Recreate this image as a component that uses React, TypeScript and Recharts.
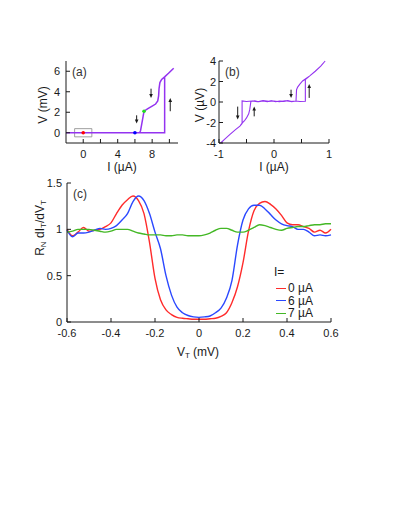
import React from "react";
import {
  LineChart,
  Line,
  XAxis,
  YAxis,
  ReferenceArea,
  ReferenceDot,
  ReferenceLine,
  Legend,
} from "recharts";

// panel (a): V(I) loop, I in uA, V in mV (up sweep then down sweep)
const loopCurrentA = [-2, 9.45, 9.45, 9.9, 10.5, 9.9, 9.45, 9.1, 8.9, 8.8, 8.75, 8.65, 8.4, 8.0, 7.5, 7.06, 6.95, 6.8, 6.65, 6.55, -2];
const loopVoltageA = [0, 0, 5.45, 5.8, 6.3, 5.8, 5.45, 5.2, 4.9, 4.3, 3.6, 3.1, 2.8, 2.6, 2.35, 2.1, 1.6, 0.9, 0.2, 0.02, 0];

// panel (b): zoom on the small loop, I in uA, V in uV
const loopCurrentB = [-0.97, -0.9, -0.8, -0.7, -0.62, -0.58, -0.54, -0.5, -0.46, -0.44, -0.43, -0.42, -0.35, -0.28, -0.2, -0.12, -0.05, 0.03, 0.1, 0.18, 0.25, 0.32, 0.4, 0.47, 0.57, 0.57, 0.65, 0.75, 0.85, 0.93, 0.85, 0.75, 0.65, 0.57, 0.52, 0.47, 0.43, 0.41, 0.4, 0.3, 0.2, 0.1, 0.0, -0.1, -0.2, -0.3, -0.4, -0.5, -0.58, -0.58, -0.62, -0.7, -0.8, -0.9, -0.97];
const loopVoltageB = [-4.0, -3.65, -3.15, -2.7, -2.35, -2.05, -1.85, -1.55, -1.15, -0.7, -0.3, 0.05, 0.12, 0.02, 0.1, 0.04, 0.12, 0.03, 0.1, 0.06, 0.13, 0.04, 0.1, 0.05, 0.08, 2.2, 2.55, 3.0, 3.5, 4.0, 3.5, 3.0, 2.55, 2.25, 2.05, 1.75, 1.45, 1.2, 0.1, 0.05, 0.12, 0.03, 0.1, 0.06, 0.13, 0.02, 0.1, 0.05, 0.1, -2.1, -2.35, -2.7, -3.15, -3.65, -4.0];

// panel (c): normalised conductance vs bias
const biasVT = [-0.6, -0.575, -0.55, -0.525, -0.5, -0.475, -0.45, -0.425, -0.4, -0.375, -0.35, -0.325, -0.3, -0.275, -0.25, -0.225, -0.2, -0.175, -0.15, -0.125, -0.1, -0.075, -0.05, -0.025, 0, 0.025, 0.05, 0.075, 0.1, 0.125, 0.15, 0.175, 0.2, 0.225, 0.25, 0.275, 0.3, 0.325, 0.35, 0.375, 0.4, 0.425, 0.45, 0.475, 0.5, 0.525, 0.55, 0.575, 0.6];
const cond0uA = [1.0, 0.93, 0.97, 1.02, 0.98, 0.99, 1.0, 1.03, 1.07, 1.17, 1.26, 1.32, 1.36, 1.31, 1.17, 0.86, 0.47, 0.24, 0.13, 0.08, 0.05, 0.04, 0.035, 0.03, 0.03, 0.03, 0.035, 0.04, 0.06, 0.1, 0.21, 0.38, 0.64, 0.98, 1.2, 1.28, 1.3, 1.27, 1.22, 1.15, 1.07, 1.05, 1.05, 1.03, 1.01, 0.97, 0.99, 0.96, 1.0];
const cond6uA = [0.99, 0.92, 0.96, 0.96, 0.97, 0.99, 1.01, 1.0, 1.01, 1.04, 1.1, 1.17, 1.3, 1.36, 1.31, 1.17, 0.97, 0.79, 0.5, 0.29, 0.16, 0.1, 0.07, 0.055, 0.05, 0.055, 0.065, 0.1, 0.15, 0.26, 0.45, 0.83, 1.1, 1.22, 1.26, 1.26, 1.22, 1.16, 1.1, 1.06, 1.04, 1.03, 1.0, 1.0, 0.97, 0.93, 0.94, 0.93, 0.94];
const cond7uA = [0.97, 0.98, 1.0, 1.0, 1.0, 0.99, 0.98, 0.97, 0.98, 1.0, 1.0, 1.0, 0.98, 0.96, 0.95, 0.94, 0.94, 0.94, 0.93, 0.93, 0.94, 0.94, 0.93, 0.93, 0.93, 0.94, 0.96, 0.99, 1.01, 1.01, 0.99, 0.97, 0.97, 0.99, 1.02, 1.05, 1.04, 1.02, 1.0, 0.99, 1.01, 1.02, 1.03, 1.03, 1.04, 1.05, 1.05, 1.06, 1.06];
const seriesNames = ["0 µA", "6 µA", "7 µA"];

// sweep direction arrows [I, from V, to V]
const arrowsA = [[6.2, 1.7, 0.9], [7.87, 4.3, 3.4], [10.1, 2.1, 3.4]];
const arrowsB = [[-0.66, -0.45, -1.7], [-0.36, -1.4, -0.45], [0.31, 1.2, 0.4], [0.64, 0.4, 1.75]];

const FONT = "'Liberation Sans', Arial, Helvetica, sans-serif";
const INK = "#1a1a1a";
const PURPLE = "#9433f0";
const COLORS = ["#ff2b2b", "#2b48ff", "#44b826"];

const dataA = loopCurrentA.map((i, k) => ({ i, v: loopVoltageA[k] }));
const dataB = loopCurrentB.map((i, k) => ({ i, v: loopVoltageB[k] }));
const dataC = biasVT.map((vt, k) => ({ vt, i0: cond0uA[k], i6: cond6uA[k], i7: cond7uA[k] }));

// inward tick with optional label
const makeTick = (side: string, labels: number[] = [], gap = 6) => (props: any) => {
  const { x, y, payload } = props;
  const v = payload.value;
  const len = 4;
  const show = labels.some((l) => Math.abs(l - v) < 1e-9);
  let tick;
  if (side === "bottom") tick = <line x1={x} y1={y} x2={x} y2={y - len} stroke={INK} />;
  else if (side === "top") tick = <line x1={x} y1={y} x2={x} y2={y + len} stroke={INK} />;
  else if (side === "left") tick = <line x1={x} y1={y} x2={x + len} y2={y} stroke={INK} />;
  else tick = <line x1={x} y1={y} x2={x - len} y2={y} stroke={INK} />;
  return (
    <g>
      {tick}
      {show && side === "bottom" && (
        <text x={x} y={y + 14.5} textAnchor="middle" fontSize={11} fontFamily={FONT} fill={INK}>
          {String(v)}
        </text>
      )}
      {show && side === "left" && (
        <text x={x - gap} y={y + 4} textAnchor="end" fontSize={11} fontFamily={FONT} fill={INK}>
          {String(v)}
        </text>
      )}
    </g>
  );
};

const arrowShape = (p: any) => {
  const { x1, y1, x2, y2 } = p;
  const d = y2 > y1 ? 1 : -1;
  return (
    <g>
      <line x1={x1} y1={y1} x2={x2} y2={y2 - d * 3} stroke={INK} strokeWidth={1} />
      <path d={`M${x2 - 1.8},${y2 - d * 4} L${x2 + 1.8},${y2 - d * 4} L${x2},${y2} Z`} fill={INK} />
    </g>
  );
};

const axisLine = { stroke: INK, strokeWidth: 1 };

function PanelA() {
  const xt = [0, 2, 4, 6, 8, 10];
  const yt = [0, 2, 4, 6];
  return (
    <LineChart width={190} height={175} data={dataA} margin={{ top: 61, right: 12, bottom: 0, left: 0 }}>
      <XAxis dataKey="i" type="number" domain={[-2, 11]} ticks={xt} interval={0} height={32}
        axisLine={axisLine} tickLine={false} tickSize={0} tickMargin={0} tick={makeTick("bottom", [0, 4, 8])} />
      <XAxis xAxisId="top" orientation="top" type="number" domain={[-2, 11]} ticks={xt} interval={0} height={0}
        axisLine={axisLine} tickLine={false} tickSize={0} tickMargin={0} tick={makeTick("top")} />
      <YAxis type="number" domain={[-1, 7]} ticks={yt} interval={0} width={66}
        axisLine={axisLine} tickLine={false} tickSize={0} tickMargin={0} tick={makeTick("left", yt)} />
      <YAxis yAxisId="right" orientation="right" type="number" domain={[-1, 7]} ticks={yt} interval={0} width={0}
        axisLine={axisLine} tickLine={false} tickSize={0} tickMargin={0} tick={makeTick("right")} />
      <ReferenceArea x1={-1} x2={1} y1={-0.4} y2={0.4} fill="none" stroke="#888" strokeWidth={0.8} />
      <Line dataKey="v" type="linear" stroke={PURPLE} strokeWidth={1.5} dot={false} isAnimationActive={false} />
      <ReferenceDot x={0} y={0} r={1.8} fill="#ff0000" stroke="none" />
      <ReferenceDot x={6} y={0} r={1.8} fill="#0000ff" stroke="none" />
      <ReferenceDot x={7.06} y={2.1} r={1.8} fill="#22dd22" stroke="none" />
      {arrowsA.map(([i, a, b], k) => (
        <ReferenceLine key={k} segment={[{ x: i, y: a }, { x: i, y: b }]} shape={arrowShape} />
      ))}
    </LineChart>
  );
}

function PanelB() {
  const xt = [-1, -0.5, 0, 0.5, 1];
  const yt = [-4, -2, 0, 2, 4];
  return (
    <LineChart width={145} height={175} data={dataB} margin={{ top: 61, right: 6, bottom: 0, left: 0 }}>
      <XAxis dataKey="i" type="number" domain={[-1, 1]} ticks={xt} interval={0} height={32}
        axisLine={axisLine} tickLine={false} tickSize={0} tickMargin={0} tick={makeTick("bottom", [-1, 0, 1])} />
      <XAxis xAxisId="top" orientation="top" type="number" domain={[-1, 1]} ticks={xt} interval={0} height={0}
        axisLine={axisLine} tickLine={false} tickSize={0} tickMargin={0} tick={makeTick("top")} />
      <YAxis type="number" domain={[-4, 4]} ticks={yt} interval={0} width={29}
        axisLine={axisLine} tickLine={false} tickSize={0} tickMargin={0} tick={makeTick("left", yt, 3)} />
      <YAxis yAxisId="right" orientation="right" type="number" domain={[-4, 4]} ticks={yt} interval={0} width={0}
        axisLine={axisLine} tickLine={false} tickSize={0} tickMargin={0} tick={makeTick("right")} />
      <Line dataKey="v" type="linear" stroke={PURPLE} strokeWidth={1.1} dot={false} isAnimationActive={false} />
      {arrowsB.map(([i, a, b], k) => (
        <ReferenceLine key={k} segment={[{ x: i, y: a }, { x: i, y: b }]} shape={arrowShape} />
      ))}
    </LineChart>
  );
}

const renderLegend = (props: any) => (
  <div style={{ fontFamily: FONT, fontSize: 12, color: INK, lineHeight: "12.5px" }}>
    <div style={{ marginBottom: 3.5 }}>I=</div>
    {(props.payload || []).map((p: any, k: number) => (
      <div key={p.value} style={{ display: "flex", alignItems: "center" }}>
        <span style={{ width: 10, borderTop: `1.5px solid ${COLORS[k]}`, margin: "0 2px 0 2px" }} />
        {p.value}
      </div>
    ))}
  </div>
);

function PanelC() {
  const xt = [-0.6, -0.4, -0.2, 0, 0.2, 0.4, 0.6];
  const yt = [0, 0.5, 1, 1.5];
  return (
    <LineChart width={345} height={200} data={dataC} margin={{ top: 13, right: 14, bottom: 0, left: 0 }}>
      <XAxis dataKey="vt" type="number" domain={[-0.6, 0.6]} ticks={xt} interval={0} height={48}
        axisLine={axisLine} tickLine={false} tickSize={0} tickMargin={0} tick={makeTick("bottom", xt)} />
      <XAxis xAxisId="top" orientation="top" type="number" domain={[-0.6, 0.6]} ticks={xt} interval={0} height={0}
        axisLine={axisLine} tickLine={false} tickSize={0} tickMargin={0} tick={makeTick("top")} />
      <YAxis type="number" domain={[0, 1.5]} ticks={yt} interval={0} width={67}
        axisLine={axisLine} tickLine={false} tickSize={0} tickMargin={0} tick={makeTick("left", yt, 5)} />
      <YAxis yAxisId="right" orientation="right" type="number" domain={[0, 1.5]} ticks={yt} interval={0} width={0}
        axisLine={axisLine} tickLine={false} tickSize={0} tickMargin={0} tick={makeTick("right")} />
      <Line dataKey="i0" name={seriesNames[0]} type="monotone" stroke={COLORS[0]} strokeWidth={1.4} dot={false} isAnimationActive={false} />
      <Line dataKey="i6" name={seriesNames[1]} type="monotone" stroke={COLORS[1]} strokeWidth={1.4} dot={false} isAnimationActive={false} />
      <Line dataKey="i7" name={seriesNames[2]} type="monotone" stroke={COLORS[2]} strokeWidth={1.4} dot={false} isAnimationActive={false} />
      <Legend layout="horizontal" verticalAlign="middle" align="center" content={renderLegend}
        wrapperStyle={{ left: 274, top: 96, width: 60, height: "auto", bottom: "auto" }} />
    </LineChart>
  );
}

export default function App() {
  const t = { fontFamily: FONT, fontSize: 12, fill: INK };
  return (
    <div style={{ position: "absolute", left: 0, top: 0, width: 395, height: 511, background: "#fff" }}>
      <div style={{ position: "absolute", left: 0, top: 0 }}>
        <PanelA />
      </div>
      <div style={{ position: "absolute", left: 190, top: 0 }}>
        <PanelB />
      </div>
      <div style={{ position: "absolute", left: 0, top: 170 }}>
        <PanelC />
      </div>
      <svg width={395} height={511} style={{ position: "absolute", left: 0, top: 0, pointerEvents: "none" }}>
        <text x={72} y={76} {...t} fill="#333">(a)</text>
        <text x={225} y={76} {...t} fill="#333">(b)</text>
        <text x={73} y={198} {...t} fill="#333">(c)</text>
        <text x={43} y={105} {...t} textAnchor="middle" dominantBaseline="central" transform="rotate(-90 43 105)">V (mV)</text>
        <text x={200} y={105} {...t} textAnchor="middle" dominantBaseline="central" transform="rotate(-90 200 105)">V (µV)</text>
        <text x={122} y={167} {...t} textAnchor="middle" dominantBaseline="central">I (µA)</text>
        <text x={274} y={167} {...t} textAnchor="middle" dominantBaseline="central">I (µA)</text>
        <text x={40} y={228} {...t} textAnchor="middle" dominantBaseline="central" transform="rotate(-90 40 228)">
          R<tspan fontSize={8} dy={3}>N</tspan>
          <tspan dy={-3}> dI</tspan>
          <tspan fontSize={8} dy={3}>T</tspan>
          <tspan dy={-3}>/dV</tspan>
          <tspan fontSize={8} dy={3}>T</tspan>
        </text>
        <text x={198} y={352} {...t} textAnchor="middle" dominantBaseline="central">
          V<tspan fontSize={8} dy={3}>T</tspan>
          <tspan dy={-3}> (mV)</tspan>
        </text>
      </svg>
    </div>
  );
}
